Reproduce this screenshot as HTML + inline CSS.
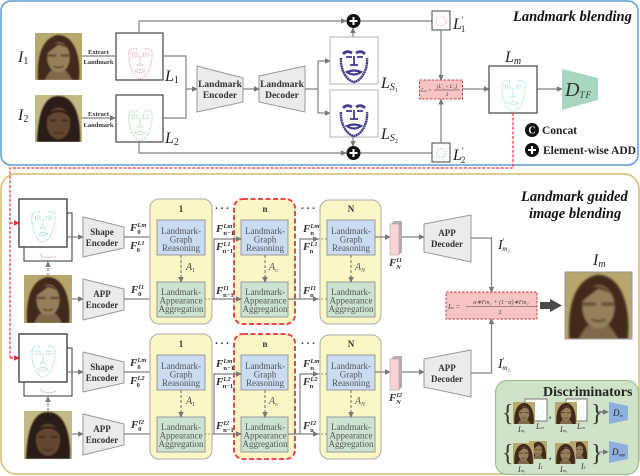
<!DOCTYPE html>
<html><head><meta charset="utf-8">
<style>
html,body{margin:0;padding:0;background:#fff}
svg{display:block;filter:blur(0.35px)}
text{font-family:"Liberation Serif",serif}
.b{font-weight:bold;fill:#333;text-anchor:middle;font-size:9px}
.g{fill:#555;text-anchor:middle;font-size:9px}
.m{font-style:italic;fill:#222;font-size:16px}
.f{font-style:italic;fill:#333;font-size:11px;font-weight:bold}
.s{font-size:6.5px}
.c{fill:none;stroke:#808080;stroke-width:1.2}
.a{fill:none;stroke:#808080;stroke-width:1.2;marker-end:url(#ah)}
.d{fill:none;stroke:#808080;stroke-width:1.2;stroke-dasharray:3 2;marker-end:url(#ah)}
.dot{fill:none;stroke:#808080;stroke-width:1;stroke-dasharray:1.5 2}
.r{fill:none;stroke:#e8323c;stroke-width:1.2;stroke-dasharray:3 1.6}
</style></head><body>
<svg width="640" height="476" viewBox="0 0 640 476" xmlns="http://www.w3.org/2000/svg">
<defs>
<marker id="ah" markerWidth="6" markerHeight="6" refX="5" refY="3" orient="auto" markerUnits="userSpaceOnUse"><path d="M0,0.3L6,3L0,5.7z" fill="#777"/></marker>
<marker id="rh" markerWidth="6" markerHeight="6" refX="5" refY="3" orient="auto" markerUnits="userSpaceOnUse"><path d="M0,0.3L6,3L0,5.7z" fill="#e8323c"/></marker>
<filter id="bl"><feGaussianBlur stdDeviation="0.8"/></filter>
<symbol id="f1" viewBox="0 0 48 48">
<rect width="48" height="48" fill="#b7a76c"/>
<g filter="url(#bl)">
<path d="M3,48C2,28 5,6 23,2C42,2 47,28 45,48z" fill="#41291a"/>
<path d="M10,48Q14,40 17,38L31,38Q35,42 38,48z" fill="#7d6a4c"/>
<ellipse cx="24" cy="25" rx="11.500" ry="15.500" fill="#96805a"/>
<path d="M11,22C14,9 25,7 33,15L24,12z" fill="#41291a"/>
<path d="M13,23h9M26,23h9" stroke="#5d4f3e" stroke-width="2.500"/>
<path d="M19,34q5,2.500 10,0" stroke="#4f3024" stroke-width="1.300" fill="none"/>
</g></symbol>
<symbol id="f2" viewBox="0 0 48 48">
<rect width="48" height="48" fill="#c2ba84"/>
<g filter="url(#bl)">
<path d="M2,48C3,24 7,1 24,1C41,1 47,24 46,48z" fill="#2c1d13"/>
<ellipse cx="24" cy="29" rx="12" ry="16" fill="#644630"/>
<path d="M11,25C13,12 35,12 37,25C30,15 18,15 11,25z" fill="#2c1d13"/>
<path d="M15,26h6M27,26h6" stroke="#2c1d13" stroke-width="1.500"/>
<path d="M19,38q5,2 10,0" stroke="#3d2218" stroke-width="1.200" fill="none"/>
</g></symbol>
<g id="lm" fill="none" stroke-dasharray="1 1.300" stroke-width="0.9">
<path d="M13,19C12,30 17,44 24,45C31,44 37,30 36,19C36,15 33,14 28,15M21,15C16,14 13,15 13,19"/>
<path d="M16,20q3-2 6,0M27,20q3-2 6,0M16,22h6M27,22h6M24,22v9M21,31h6M19,37q5-3 10,0q-5,3-10,0"/>
</g>
<g id="ls" fill="none" stroke="#3f3a90" stroke-width="2.400">
<path d="M11,22C10,34 17,45 24,46C31,45 38,34 37,22" stroke-dasharray="2 .4"/>
<path d="M13,18q4-4 9-1M26,17q5-3 9,1" stroke="#4a3a90" stroke-width="2.800"/>
<path d="M16,21h6M27,21h6M24,20v9M20,29h8" stroke-width="1.800"/>
<path d="M17,36q7-3 14,0q-7,5-14,0z" stroke-width="2.200"/>
</g>
<g id="row">
<rect x="24" y="213" width="48" height="48" fill="#fff" stroke="#555" stroke-width="1.200"/>
<rect x="19" y="199" width="48" height="48" fill="#fff" stroke="#444" stroke-width="1.400"/>
<use href="#lm" x="19" y="197" stroke="#62c4d2"/>
<path d="M48,276V262" class="d"/>
<path d="M67,237H83" class="a"/><path d="M72,299H83" class="a"/>
<path d="M83,217L124,227V248L83,257z" fill="#ebebeb" stroke="#999"/>
<path d="M83,279L124,289V310L83,320z" fill="#ebebeb" stroke="#999"/>
<text class="b" x="102" y="235">Shape</text><text class="b" x="102" y="246">Encoder</text>
<text class="b" x="102" y="297">APP</text><text class="b" x="102" y="308">Encoder</text>
<path d="M124,237H157" class="a"/><path d="M124,299H157" class="a"/>
<rect x="150" y="199" width="62" height="125" rx="9" fill="#fbf6c4" stroke="#aaa"/>
<rect x="234" y="199" width="61" height="125" rx="9" fill="#fbf6c4"/>
<rect x="320" y="200" width="61" height="124" rx="9" fill="#fbf6c4" stroke="#aaa"/>
<rect x="234" y="199" width="61" height="125" rx="9" fill="none" stroke="#e8323c" stroke-width="1.800" stroke-dasharray="5 2.500"/>
<g stroke="#999" stroke-width="1">
<rect x="157" y="220" width="48" height="35" fill="#c9dcf2"/>
<rect x="241" y="220" width="47" height="35" fill="#c9dcf2"/>
<rect x="327" y="220" width="48" height="35" fill="#c9dcf2"/>
<rect x="157" y="282" width="48" height="35" fill="#cde3d2"/>
<rect x="241" y="282" width="47" height="35" fill="#cde3d2"/>
<rect x="327" y="282" width="48" height="35" fill="#cde3d2"/>
</g>
<g>
<text class="b" x="181" y="212">1</text>
<text class="g" x="181" y="234">Landmark-</text><text class="g" x="181" y="242.500">Graph</text><text class="g" x="181" y="251">Reasoning</text>
<text class="g" x="181" y="295">Landmark-</text><text class="g" x="181" y="303.500">Appearance</text><text class="g" x="181" y="312">Aggregation</text>
<text class="b" x="265" y="212">n</text>
<text class="g" x="265" y="234">Landmark-</text><text class="g" x="265" y="242.500">Graph</text><text class="g" x="265" y="251">Reasoning</text>
<text class="g" x="265" y="295">Landmark-</text><text class="g" x="265" y="303.500">Appearance</text><text class="g" x="265" y="312">Aggregation</text>
<text class="b" x="351" y="212">N</text>
<text class="g" x="351" y="234">Landmark-</text><text class="g" x="351" y="242.500">Graph</text><text class="g" x="351" y="251">Reasoning</text>
<text class="g" x="351" y="295">Landmark-</text><text class="g" x="351" y="303.500">Appearance</text><text class="g" x="351" y="312">Aggregation</text>
</g>
<path d="M181,255V282" class="d"/><path d="M265,255V282" class="d"/><path d="M351,255V282" class="d"/>
<path d="M205,299H213" class="dot"/><path d="M213,299H241" class="a"/><path d="M214,299V239H241" class="a"/>
<path d="M288,299H318" class="a"/><path d="M300,299V239H318" class="a"/>
<path d="M318,239H327M318,299H327" class="dot"/>
<text x="222" y="209" style="font-size:11px;font-weight:bold" text-anchor="middle" fill="#333">. . .</text>
<text x="308" y="209" style="font-size:11px;font-weight:bold" text-anchor="middle" fill="#333">. . .</text>
<path d="M375,237H390" class="a"/><path d="M402,237H424" class="a"/>
<path d="M391,224l3-3h8v31l-3,3z" fill="#b9a9ad"/>
<rect x="390" y="224" width="9" height="31" fill="#fbd3d5" stroke="#aaa" stroke-width=".6"/>
<path d="M424,224L471,215V262L424,252z" fill="#ebebeb" stroke="#999"/>
<text class="b" x="447" y="236">APP</text><text class="b" x="447" y="247">Decoder</text>
</g>
</defs>

<rect x="1" y="1" width="637" height="164" rx="10" fill="#fff" stroke="#5b9bd5" stroke-width="1.500"/>
<rect x="1" y="174" width="638" height="300" rx="15" fill="#fff" stroke="#d6bb6e" stroke-width="1.500"/>

<use href="#f1" x="35" y="33" width="47" height="47"/>
<use href="#f2" x="35" y="95" width="47" height="47"/>
<rect x="116" y="33" width="47" height="47" fill="#fff" stroke="#444" stroke-width="1.200"/>
<rect x="116" y="95" width="47" height="47" fill="#fff" stroke="#444" stroke-width="1.200"/>
<use href="#lm" x="116" y="34" stroke="#f0707a"/>
<use href="#lm" x="116" y="96" stroke="#70c878"/>
<text class="m" x="18" y="62">I<tspan style="font-size:10px;font-style:normal" dy="2">1</tspan></text>
<text class="m" x="18" y="120">I<tspan style="font-size:10px;font-style:normal" dy="2">2</tspan></text>
<text class="m" x="165" y="81">L<tspan style="font-size:10px;font-style:normal" dy="2">1</tspan></text>
<text class="m" x="165" y="143">L<tspan style="font-size:10px;font-style:normal" dy="2">2</tspan></text>
<text x="98.500" y="54" text-anchor="middle" style="font-size:6.500px;font-weight:bold" fill="#333">Extract</text>
<text x="98.500" y="64" text-anchor="middle" style="font-size:6.500px;font-weight:bold" fill="#333">Landmark</text>
<text x="98.500" y="116" text-anchor="middle" style="font-size:6.500px;font-weight:bold" fill="#333">Extract</text>
<text x="98.500" y="127" text-anchor="middle" style="font-size:6.500px;font-weight:bold" fill="#333">Landmark</text>
<path d="M82,56H115M82,118H115" class="a"/>
<path d="M139,33V21H346" class="a"/><path d="M360,21H432" class="c"/>
<path d="M139,142V153H346" class="a"/><path d="M360,153H432" class="c"/>
<path d="M163,56H186V118H163" class="c"/><path d="M186,89H197" class="a"/>
<path d="M197,66L243,78V102L197,112z" fill="#ebebeb" stroke="#999"/>
<path d="M259,76L305,66V112L259,102z" fill="#ebebeb" stroke="#999"/>
<text class="b" x="220" y="87" style="font-size:9.500px">Landmark</text><text class="b" x="220" y="98" style="font-size:9.500px">Encoder</text>
<text class="b" x="282" y="87" style="font-size:9.500px">Landmark</text><text class="b" x="282" y="98" style="font-size:9.500px">Decoder</text>
<path d="M243,89H259" class="a"/>
<path d="M305,89H318M318,61V113" class="c"/><path d="M318,61H330" class="a"/><path d="M318,113H330" class="a"/>
<rect x="330" y="37" width="48" height="47" fill="#fff" stroke="#b9b0b8"/>
<rect x="330" y="90" width="48" height="47" fill="#fff" stroke="#b9b0b8"/>
<use href="#ls" x="330" y="36"/><use href="#ls" x="330" y="90"/>
<text class="m" x="381" y="88">L<tspan style="font-size:10px" dy="2">S</tspan><tspan style="font-size:6px;font-style:normal" dy="2">1</tspan></text>
<text class="m" x="381" y="139">L<tspan style="font-size:10px" dy="2">S</tspan><tspan style="font-size:6px;font-style:normal" dy="2">2</tspan></text>
<path d="M353,37V28" class="a"/><path d="M353,137V146" class="a"/>
<circle cx="353.500" cy="21" r="7" fill="#111"/><path d="M349.500,21h8M353.500,17v8" stroke="#fff" stroke-width="2"/>
<circle cx="353.500" cy="153" r="7" fill="#111"/><path d="M349.500,153h8M353.500,149v8" stroke="#fff" stroke-width="2"/>
<rect x="432" y="11" width="18" height="19" fill="#fff" stroke="#444"/>
<rect x="432" y="143" width="18" height="19" fill="#fff" stroke="#444"/>
<circle cx="441" cy="21" r="5" fill="none" stroke="#f0a0a8" stroke-dasharray="1 1"/>
<circle cx="441" cy="153" r="4.500" fill="none" stroke="#90cc98" stroke-dasharray="1 1"/>
<text class="m" x="453" y="29">L<tspan style="font-size:9px;font-style:normal" dy="-6">′</tspan><tspan style="font-size:9px;font-style:normal" dy="9" dx="-3">1</tspan></text>
<text class="m" x="453" y="160">L<tspan style="font-size:9px;font-style:normal" dy="-6">′</tspan><tspan style="font-size:9px;font-style:normal" dy="9" dx="-3">2</tspan></text>
<path d="M441,30V80" class="a"/><path d="M441,143V99.500" class="a"/>
<rect x="419.500" y="80" width="43" height="19" fill="#f8c3c3" stroke="#c2404e" stroke-width="1" stroke-dasharray="2.500 1.500"/>
<text x="421" y="92" style="font-size:5.500px;font-style:italic" fill="#333">L<tspan font-size="3.500">m</tspan> =</text>
<text x="447" y="88" text-anchor="middle" style="font-size:5px;font-style:italic" fill="#333">(L′₁ + L′₂)</text>
<path d="M434,90H460" stroke="#333" stroke-width=".5"/>
<text x="447" y="96" text-anchor="middle" style="font-size:5px" fill="#333">2</text>
<path d="M462,89H489" class="a"/><path d="M537,89H562" class="a"/>
<rect x="489" y="66" width="48" height="47" fill="#fff" stroke="#444" stroke-width="1.200"/>
<use href="#lm" x="489" y="66" stroke="#70d0e0"/>
<text class="m" x="505" y="62">L<tspan style="font-size:10px" dy="2">m</tspan></text>
<path d="M562,69L598,78V100L562,110z" fill="#a6d8c0"/>
<text x="565" y="96" style="font-size:20px;font-style:italic" fill="#333">D<tspan style="font-size:9px;letter-spacing:1px" dy="2">TF</tspan></text>
<circle cx="532" cy="130" r="7" fill="#111"/><text x="532" y="133.500" text-anchor="middle" fill="#fff" style="font-size:10px;font-weight:bold">C</text>
<circle cx="532" cy="150" r="7" fill="#111"/><path d="M528,150h8M532,146v8" stroke="#fff" stroke-width="2"/>
<text x="542" y="134" style="font-size:11.500px;font-weight:bold" fill="#222">Concat</text>
<text x="543" y="154" style="font-size:11.500px;font-weight:bold" fill="#222">Element-wise ADD</text>
<text x="513" y="21" style="font-size:14.500px;font-weight:bold;font-style:italic" fill="#111">Landmark blending</text>

<path d="M513,113V168H10V358" class="r"/>
<path d="M10,223H19" class="r" marker-end="url(#rh)"/><path d="M10,358H19" class="r" marker-end="url(#rh)"/>

<use href="#f1" x="24" y="275" width="48" height="48"/>
<use href="#f2" x="24" y="411" width="48" height="48"/>
<use href="#row"/>
<use href="#row" y="135"/>
<path d="M40,255q8,5 16,1" fill="none" stroke="#f08088" stroke-dasharray="1 1"/>
<path d="M40,390q8,5 16,1" fill="none" stroke="#70c878" stroke-dasharray="1 1"/>

<g>
<text class="f" x="130" y="231">F<tspan class="s" dy="-4">Lm</tspan><tspan class="s" dy="7" dx="-9" style="font-style:normal">0</tspan></text>
<text class="f" x="130" y="249">F<tspan class="s" dy="-4">L1</tspan><tspan class="s" dy="7" dx="-8" style="font-style:normal">0</tspan></text>
<text class="f" x="131" y="293">F<tspan class="s" dy="-4">I1</tspan><tspan class="s" dy="7" dx="-6" style="font-style:normal">0</tspan></text>
<text class="f" x="216" y="232">F<tspan class="s" dy="-4">Lm</tspan><tspan class="s" dy="7" dx="-9" style="font-style:normal">n−1</tspan></text>
<text class="f" x="216" y="250">F<tspan class="s" dy="-4">L1</tspan><tspan class="s" dy="7" dx="-8" style="font-style:normal">n−1</tspan></text>
<text class="f" x="216" y="294">F<tspan class="s" dy="-4">I1</tspan><tspan class="s" dy="7" dx="-6" style="font-style:normal">n−1</tspan></text>
<text class="f" x="303" y="232">F<tspan class="s" dy="-4">Lm</tspan><tspan class="s" dy="7" dx="-9" style="font-style:normal">n</tspan></text>
<text class="f" x="303" y="250">F<tspan class="s" dy="-4">L1</tspan><tspan class="s" dy="7" dx="-8" style="font-style:normal">n</tspan></text>
<text class="f" x="303" y="294">F<tspan class="s" dy="-4">I1</tspan><tspan class="s" dy="7" dx="-6" style="font-style:normal">n</tspan></text>
<text class="f" x="389" y="266">F<tspan class="s" dy="-4">I1</tspan><tspan class="s" dy="7" dx="-6">N</tspan></text>
<text x="186" y="270" style="font-size:10px;font-style:italic" fill="#444">A<tspan style="font-size:6px;font-style:normal" dy="2">1</tspan></text>
<text x="269" y="270" style="font-size:10px;font-style:italic" fill="#555">A<tspan style="font-size:5px" dy="2">n</tspan></text>
<text x="355" y="270" style="font-size:10px;font-style:italic" fill="#555">A<tspan style="font-size:6px" dy="2">N</tspan></text>
</g>
<g>
<text class="f" x="130" y="366">F<tspan class="s" dy="-4">Lm</tspan><tspan class="s" dy="7" dx="-9" style="font-style:normal">0</tspan></text>
<text class="f" x="130" y="384">F<tspan class="s" dy="-4">L2</tspan><tspan class="s" dy="7" dx="-8" style="font-style:normal">0</tspan></text>
<text class="f" x="131" y="428">F<tspan class="s" dy="-4">I2</tspan><tspan class="s" dy="7" dx="-6" style="font-style:normal">0</tspan></text>
<text class="f" x="216" y="367">F<tspan class="s" dy="-4">Lm</tspan><tspan class="s" dy="7" dx="-9" style="font-style:normal">n−1</tspan></text>
<text class="f" x="216" y="385">F<tspan class="s" dy="-4">L2</tspan><tspan class="s" dy="7" dx="-8" style="font-style:normal">n−1</tspan></text>
<text class="f" x="216" y="429">F<tspan class="s" dy="-4">I2</tspan><tspan class="s" dy="7" dx="-6" style="font-style:normal">n−1</tspan></text>
<text class="f" x="303" y="367">F<tspan class="s" dy="-4">Lm</tspan><tspan class="s" dy="7" dx="-9" style="font-style:normal">n</tspan></text>
<text class="f" x="303" y="385">F<tspan class="s" dy="-4">L2</tspan><tspan class="s" dy="7" dx="-8" style="font-style:normal">n</tspan></text>
<text class="f" x="303" y="429">F<tspan class="s" dy="-4">I2</tspan><tspan class="s" dy="7" dx="-6" style="font-style:normal">n</tspan></text>
<text class="f" x="389" y="401">F<tspan class="s" dy="-4">I2</tspan><tspan class="s" dy="7" dx="-6">N</tspan></text>
<text x="186" y="404" style="font-size:10px;font-style:italic" fill="#444">A<tspan style="font-size:6px;font-style:normal" dy="2">1</tspan></text>
<text x="269" y="404" style="font-size:10px;font-style:italic" fill="#555">A<tspan style="font-size:5px" dy="2">n</tspan></text>
<text x="355" y="404" style="font-size:10px;font-style:italic" fill="#555">A<tspan style="font-size:6px" dy="2">N</tspan></text>
</g>

<path d="M471,238H491.500V292" class="a"/>
<path d="M471,373H491.500V319" class="a"/>
<text class="m" x="498" y="249" style="font-size:14px">I<tspan style="font-size:8px;font-style:normal" dy="-5">′</tspan><tspan style="font-size:7px" dy="7" dx="-2">m₁</tspan></text>
<text class="m" x="498" y="368" style="font-size:14px">I<tspan style="font-size:8px;font-style:normal" dy="-5">′</tspan><tspan style="font-size:7px" dy="7" dx="-2">m₂</tspan></text>
<rect x="446" y="292" width="91" height="27" fill="#f8c3c3" stroke="#c2404e" stroke-dasharray="2.500 1.500"/>
<text x="448" y="309" style="font-size:7px;font-style:italic" fill="#444">I<tspan font-size="4.500">m</tspan> =</text>
<text x="501" y="304" text-anchor="middle" style="font-size:6.200px;font-style:italic" fill="#444">α∗I′m₁ + (1−α)∗I′m₂</text>
<path d="M466,306.500H537" stroke="#444" stroke-width=".5"/>
<text x="500" y="314" text-anchor="middle" style="font-size:6px" fill="#444">2</text>
<path d="M540,302H550V299L562,305.500L550,312V309H540z" fill="#4a4a4a"/>
<use href="#f1" x="565" y="272" width="67" height="67"/>
<rect x="565" y="272" width="67" height="67" fill="none" stroke="#999"/>
<text class="m" x="593" y="265" style="font-size:16px" fill="#444">I<tspan style="font-size:10px" dy="2">m</tspan></text>
<text x="521" y="201" style="font-size:14.500px;font-weight:bold;font-style:italic" fill="#111">Landmark guided</text>
<text x="529" y="218" style="font-size:14.500px;font-weight:bold;font-style:italic" fill="#111">image blending</text>

<rect x="495.500" y="380.500" width="143" height="94" rx="12" fill="#cfe3c8" stroke="#9cbf8f" stroke-width="1.200"/>
<text x="543" y="396" style="font-size:14px;font-weight:bold" fill="#222">Discriminators</text>
<rect x="525" y="399" width="22" height="22" fill="#fff" stroke="#777"/>
<rect x="566" y="399" width="21" height="22" fill="#fff" stroke="#777"/>
<use href="#lm" x="525" y="398" width="22" height="22" stroke="#70d0e0" transform="translate(262.500,199) scale(.5)"/>
<use href="#lm" x="566" y="398" stroke="#70d0e0" transform="translate(283,199) scale(.5)"/>
<use href="#f1" x="529" y="440" width="18" height="20"/>
<use href="#f1" x="570" y="440" width="18" height="20"/>
<use href="#f1" x="513" y="402" width="22" height="22"/>
<use href="#f1" x="555" y="402" width="22" height="22"/>
<use href="#f1" x="513" y="443" width="21" height="21"/>
<use href="#f1" x="555" y="443" width="21" height="21"/>
<text x="502" y="421" style="font-size:24px" fill="#333">{</text>
<text x="502" y="461" style="font-size:24px" fill="#333">{</text>
<text x="591" y="421" style="font-size:24px" fill="#333">}</text>
<text x="591" y="461" style="font-size:24px" fill="#333">}</text>
<text x="549" y="418" style="font-size:9px;font-weight:bold" fill="#333">,</text>
<text x="549" y="459" style="font-size:9px;font-weight:bold" fill="#333">,</text>
<g style="font-size:8px;font-style:italic" fill="#333">
<text x="518" y="432">I<tspan font-size="4.500">m₁</tspan></text><text x="536" y="429">L<tspan font-size="4.500">m</tspan></text>
<text x="560" y="432">I<tspan font-size="4.500">m₁</tspan></text><text x="577" y="429">L<tspan font-size="4.500">m</tspan></text>
<text x="518" y="472">I<tspan font-size="4.500">m₁</tspan></text><text x="538" y="469">I<tspan font-size="4.500">1</tspan></text>
<text x="560" y="472">I<tspan font-size="4.500">m₁</tspan></text><text x="581" y="469">I<tspan font-size="4.500">1</tspan></text>
</g>
<path d="M598,412H608" stroke="#333" stroke-width="1" marker-end="url(#ah)"/>
<path d="M598,452H608" stroke="#777" stroke-width="1" marker-end="url(#ah)"/>
<path d="M609,402L628,406V420L609,424z" fill="#8db0dc"/>
<path d="M609,441L628,445V459L609,463z" fill="#8db0dc"/>
<text x="613" y="416" style="font-size:9px;font-style:italic" fill="#222">D<tspan font-size="4.500" dy="1">m</tspan></text>
<text x="612" y="455" style="font-size:9px;font-style:italic" fill="#222">D<tspan font-size="4.500" dy="1">app</tspan></text>
</svg>
</body></html>
